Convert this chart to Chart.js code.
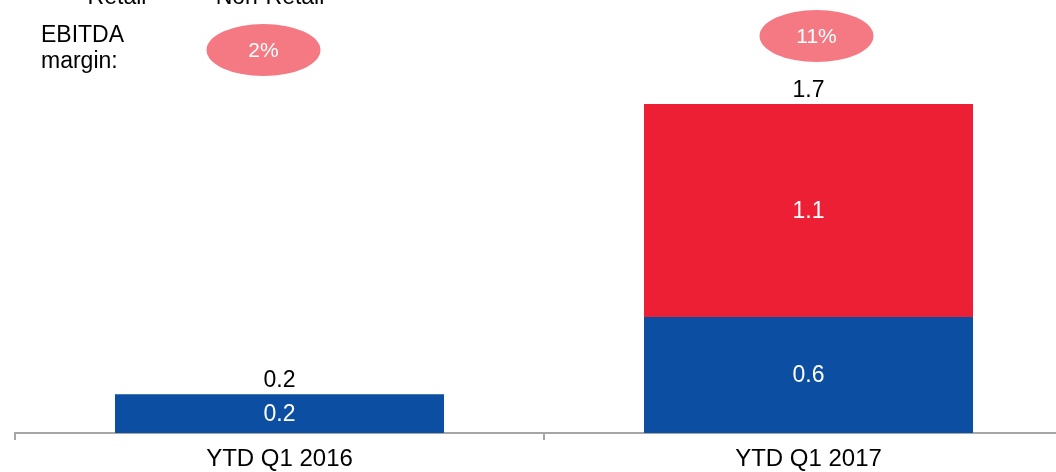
<!DOCTYPE html>
<html>
<head>
<meta charset="utf-8">
<script src="https://cdn.jsdelivr.net/npm/chart.js@4/dist/chart.umd.min.js"></script>
<style>
  html, body { margin: 0; padding: 0; background: #fff; overflow: hidden; }
  #wrap { width: 1056px; height: 472px; overflow: hidden; position: relative; }
  canvas { display: block; }
</style>
</head>
<body>
<div id="wrap"><canvas id="c" width="1073" height="472"></canvas></div>
<script>
const categories = ['YTD Q1 2016', 'YTD Q1 2017'];
const retail = [0.2, 0.6];
const nonRetail = [0, 1.1];
const totals = [0.2, 1.7];
const marginLabels = ['2%', '11%'];
const seriesNames = ['Retail', 'Non-Retail'];

const FONT = '"Liberation Sans", Arial, sans-serif';
const BLUE = '#0B4EA2';
const RED = '#EC1F35';
const PINK = '#F47982';

const annotations = {
  id: 'annotations',
  afterDatasetsDraw(chart) {
    const ctx = chart.ctx;
    const metaR = chart.getDatasetMeta(0);
    const metaN = chart.getDatasetMeta(1);
    const y = chart.scales.y;
    ctx.save();
    ctx.textAlign = 'center';
    ctx.textBaseline = 'middle';
    // labels inside bars
    ctx.font = '23px ' + FONT;
    ctx.fillStyle = '#fff';
    [metaR, metaN].forEach((meta, di) => {
      const vals = di === 0 ? retail : nonRetail;
      meta.data.forEach((bar, i) => {
        if (!vals[i]) return;
        const mid = (bar.y + bar.base) / 2;
        ctx.fillText(vals[i].toFixed(1), bar.x, mid + 1);
      });
    });
    // totals above
    ctx.fillStyle = '#000';
    ctx.textBaseline = 'alphabetic';
    metaR.data.forEach((bar, i) => {
      const top = y.getPixelForValue(totals[i]);
      ctx.fillText(totals[i].toFixed(1), bar.x, top - 7);
    });
    // EBITDA margin ellipses
    const ell = [{dx: -16, cy: 50}, {dx: 8, cy: 36}];
    metaR.data.forEach((bar, i) => {
      const cx = bar.x + ell[i].dx, cy = ell[i].cy;
      ctx.beginPath();
      ctx.ellipse(cx, cy, 57, 26, 0, 0, Math.PI * 2);
      ctx.fillStyle = PINK;
      ctx.fill();
      ctx.fillStyle = '#fff';
      ctx.font = '21px ' + FONT;
      ctx.textBaseline = 'middle';
      ctx.fillText(marginLabels[i], cx, cy + 1);
    });
    // EBITDA margin label
    ctx.fillStyle = '#000';
    ctx.textAlign = 'left';
    ctx.textBaseline = 'alphabetic';
    ctx.font = '23px ' + FONT;
    ctx.fillText('EBITDA', 41, 42);
    ctx.fillText('margin:', 41, 68);
    // cut-off legend text
    ctx.textAlign = 'center';
    ctx.fillText(seriesNames[0], 117, 4);
    ctx.fillText(seriesNames[1], 270, 4);
    ctx.restore();
  }
};

new Chart(document.getElementById('c'), {
  type: 'bar',
  data: {
    labels: categories,
    datasets: [
      { label: seriesNames[0], data: retail, backgroundColor: BLUE, borderWidth: 0 },
      { label: seriesNames[1], data: nonRetail, backgroundColor: RED, borderWidth: 0 }
    ]
  },
  options: {
    responsive: false,
    animation: false,
    layout: { padding: { left: 15, right: 0, top: 0, bottom: 0 } },
    plugins: { legend: { display: false }, tooltip: { enabled: false } },
    datasets: { bar: { categoryPercentage: 1, barPercentage: 0.622 } },
    scales: {
      x: {
        stacked: true,
        afterFit(scale) { scale.height = 39; },
        border: { display: true, color: '#A6A6A6', width: 2 },
        grid: { display: true, drawOnChartArea: false, drawTicks: true, tickLength: 7, color: '#A6A6A6', lineWidth: 2, offset: true },
        ticks: { color: '#000', font: { family: FONT, size: 24, lineHeight: 1 }, padding: 7 }
      },
      y: {
        stacked: true,
        display: false,
        min: 0,
        max: 2.238
      }
    }
  },
  plugins: [annotations]
});
</script>
</body>
</html>
